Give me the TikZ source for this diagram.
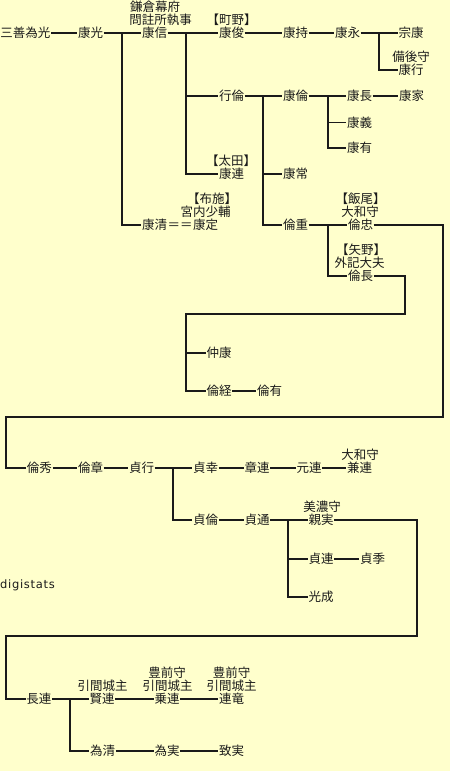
\documentclass[tikz,border=0pt]{standalone}
\usepackage{fontspec}
\newfontfamily\jp{Noto Sans CJK JP}
\newfontfamily\lat[LetterSpace=6]{DejaVu Sans}
\definecolor{bg}{HTML}{FFFFCC}
\definecolor{ink}{HTML}{1A1A1A}
\begin{document}
\begin{tikzpicture}[x=1pt,y=-1pt,
  nm/.style={font=\jp\fontsize{12.5}{13}\selectfont, inner sep=0.5pt, text height=10.5pt, text depth=1.3pt, text=ink},
  ln/.style={line width=1.3pt, draw=ink}]
\fill[bg] (0,0) rectangle (450,771);
\useasboundingbox (0,0) rectangle (450,771);
% row 1
\node[nm] (p1) at (25.5,33) {三善為光};
\node[nm] (p2) at (90.5,33) {康光};
\node[nm] (p3) at (154.5,33) {康信};
\node[nm] (l3a) at (155,7) {鎌倉幕府};
\node[nm] (l3b) at (160.5,20) {問註所執事};
\node[nm] (p4) at (231.5,33) {康俊};
\node[nm] (l4) at (231.5,20) {【町野】};
\node[nm] (p5) at (295.5,33) {康持};
\node[nm] (p6) at (347.5,33) {康永};
\node[nm] (p7) at (411,33) {宗康};
\node[nm] (p8) at (411,70) {康行};
\node[nm] (l8) at (411,57) {備後守};
\coordinate (j2) at (122,33);
\coordinate (j3) at (186,33);
\coordinate (j6) at (379,33);
% row 行倫
\node[nm] (p9) at (231.5,96) {行倫};
\node[nm] (p10) at (295.5,96) {康倫};
\coordinate (j9) at (263,96);
\coordinate (j10) at (328,96);
\node[nm] (p11) at (359.5,96) {康長};
\node[nm] (p12) at (411.5,96) {康家};
\node[nm] (p13) at (359.5,122.5) {康義};
\node[nm] (p14) at (359.5,148) {康有};
\node[nm] (p15) at (295.5,174) {康常};
\node[nm] (p16) at (231.5,174) {康連};
\node[nm] (l16) at (231,161) {【太田】};
% row 225
\node[nm] (p17) at (154.5,225) {康清};
\node[nm] (eq) at (180,225) {＝＝};
\node[nm] (p18) at (205.5,225) {康定};
\node[nm] (l18a) at (212,199) {【布施】};
\node[nm] (l18b) at (205.5,212) {宮内少輔};
\node[nm] (p19) at (295.5,225) {倫重};
\coordinate (j19) at (328,225);
\node[nm] (p20) at (360.5,225) {倫忠};
\node[nm] (l20a) at (360.5,199) {【飯尾】};
\node[nm] (l20b) at (360,212) {大和守};
\node[nm] (p21) at (360.5,276) {倫長};
\node[nm] (l21a) at (361,250) {【矢野】};
\node[nm] (l21b) at (359.5,263) {外記大夫};
\node[nm] (p22) at (219,353) {仲康};
\node[nm] (p23) at (219,391) {倫経};
\node[nm] (p24) at (269.5,391) {倫有};
\coordinate (c1) at (405,276);
\coordinate (c2) at (405,314);
\coordinate (c3) at (186,314);
\coordinate (c4) at (186,353);
\coordinate (d1) at (443,225);
\coordinate (d2) at (443,417);
\coordinate (d3) at (6,417);
% row 468
\node[nm] (p25) at (39.5,468) {倫秀};
\node[nm] (p26) at (90.5,468) {倫章};
\node[nm] (p27) at (141.5,468) {貞行};
\coordinate (j27) at (173,468);
\node[nm] (p28) at (205.5,468) {貞幸};
\node[nm] (p29) at (257,468) {章連};
\node[nm] (p30) at (309,468) {元連};
\node[nm] (p31) at (359.5,468) {兼連};
\node[nm] (l31) at (360,455) {大和守};
\node[nm] (p32) at (205.5,520) {貞倫};
\node[nm] (p33) at (257,520) {貞通};
\coordinate (j33) at (288,520);
\node[nm] (p34) at (321,520) {親実};
\node[nm] (l34) at (322,507) {美濃守};
\node[nm] (p35) at (321,559) {貞連};
\node[nm] (p36) at (372.5,559) {貞季};
\node[nm] (p37) at (321,597) {光成};
\coordinate (e1) at (417,520);
\coordinate (e2) at (417,636);
\coordinate (e3) at (6,636);
\node[anchor=west, inner sep=0pt, font=\lat\fontsize{11.5}{13}\selectfont, text=ink] (ds) at (0,585) {digistats};
% row 699
\node[nm] (p38) at (39,699) {長連};
\coordinate (j38) at (70,699);
\node[nm] (p39) at (102,699) {賢連};
\node[nm] (l39) at (102.5,686) {引間城主};
\node[nm] (p40) at (167,699) {乗連};
\node[nm] (l40a) at (167,673) {豊前守};
\node[nm] (l40b) at (167.5,686) {引間城主};
\node[nm] (p41) at (231.5,699) {連竜};
\node[nm] (l41a) at (231.5,673) {豊前守};
\node[nm] (l41b) at (231.5,686) {引間城主};
\node[nm] (p42) at (102.5,751) {為清};
\node[nm] (p43) at (167,751) {為実};
\node[nm] (p44) at (231.5,751) {致実};
% connectors
\draw[ln] (p1.east) -- (p2.west);
\draw[ln] (p2.east) -- (p3.west);
\draw[ln] (j2) |- (p17.west);
\draw[ln] (p3.east) -- (p4.west);
\draw[ln] (j3) |- (p16.west);
\draw[ln] (j3 |- p9) -- (p9.west);
\draw[ln] (p4.east) -- (p5.west);
\draw[ln] (p5.east) -- (p6.west);
\draw[ln] (p6.east) -- (p7.west);
\draw[ln] (j6) |- (p8.west);
\draw[ln] (p9.east) -- (p10.west);
\draw[ln] (j9) |- (p19.west);
\draw[ln] (j9 |- p15) -- (p15.west);
\draw[ln] (p10.east) -- (p11.west);
\draw[ln] (j10) |- (p14.west);
\draw[ln] (j10 |- p13) -- (p13.west);
\draw[ln] (p11.east) -- (p12.west);
\draw[ln] (p19.east) -- (p20.west);
\draw[ln] (j19) |- (p21.west);
\draw[ln] (p21.east) -- (c1) -- (c2) -- (c3) |- (p23.west);
\draw[ln] (c4) -- (p22.west);
\draw[ln] (p23.east) -- (p24.west);
\draw[ln] (p20.east) -- (d1) -- (d2) -- (d3) |- (p25.west);
\draw[ln] (p25.east) -- (p26.west);
\draw[ln] (p26.east) -- (p27.west);
\draw[ln] (p27.east) -- (p28.west);
\draw[ln] (j27) |- (p32.west);
\draw[ln] (p28.east) -- (p29.west);
\draw[ln] (p29.east) -- (p30.west);
\draw[ln] (p30.east) -- (p31.west);
\draw[ln] (p32.east) -- (p33.west);
\draw[ln] (p33.east) -- (p34.west);
\draw[ln] (j33) |- (p37.west);
\draw[ln] (j33 |- p35) -- (p35.west);
\draw[ln] (p35.east) -- (p36.west);
\draw[ln] (p34.east) -- (e1) -- (e2) -- (e3) |- (p38.west);
\draw[ln] (p38.east) -- (p39.west);
\draw[ln] (j38) |- (p42.west);
\draw[ln] (p39.east) -- (p40.west);
\draw[ln] (p40.east) -- (p41.west);
\draw[ln] (p42.east) -- (p43.west);
\draw[ln] (p43.east) -- (p44.west);
\end{tikzpicture}
\end{document}
